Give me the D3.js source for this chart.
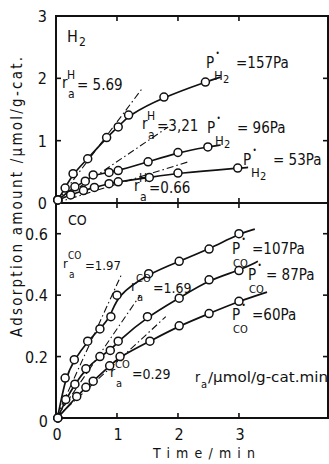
<!DOCTYPE html>
<html><head><meta charset="utf-8">
<script src="https://cdn.jsdelivr.net/npm/d3@7"></script>
<style>
body{margin:0;background:#fff}
svg{display:block}
text{font-family:"DejaVu Sans Condensed","DejaVu Sans",sans-serif;fill:#111}
</style></head><body>
<svg id="chart" width="329" height="464"></svg>
<script>
// ---- data: time in min, adsorbed amount in umol/g-cat ----
const timeTicks = [0, 1, 2, 3];
const h2Ticks = [0, 1, 2, 3];
const coTicks = [0, 0.2, 0.4, 0.6];

// H2 uptake at three partial pressures
const h2_157 = [[0.03,0.05],[0.15,0.24],[0.28,0.47],[0.52,0.71],[0.83,1.05],[1.02,1.22],[1.19,1.41],[1.77,1.70],[2.45,1.94]];
const h2_96  = [[0.03,0.05],[0.31,0.26],[0.48,0.35],[0.61,0.45],[0.87,0.49],[1.02,0.52],[1.51,0.66],[2.00,0.81],[2.49,0.90]];
const h2_53  = [[0.03,0.05],[0.24,0.13],[0.45,0.20],[0.63,0.25],[0.87,0.31],[1.02,0.34],[1.53,0.41],[2.00,0.48],[2.98,0.56]];
const h2_curveEnds = [[2.70,2.02],[2.70,0.93],[3.15,0.57]];
// initial-rate tangents: end point of each line drawn from the origin
const h2_tangentEnds = [[1.40,1.82],[1.84,1.22],[2.20,0.67]];
const h2_rates = ["5.69", "3,21", "0.66"];
const h2_pressures = ["=157Pa", "= 96Pa", "= 53Pa"];

// CO uptake at three partial pressures
const co_107 = [[0.03,0.00],[0.15,0.13],[0.30,0.19],[0.52,0.25],[0.72,0.29],[0.90,0.33],[1.00,0.40],[1.52,0.47],[2.02,0.51],[2.51,0.55],[3.00,0.60]];
const co_87  = [[0.03,0.00],[0.16,0.06],[0.31,0.11],[0.49,0.16],[0.72,0.20],[0.89,0.22],[1.02,0.25],[1.50,0.33],[2.02,0.39],[2.51,0.45],[3.00,0.48]];
const co_60  = [[0.03,0.00],[0.34,0.07],[0.49,0.10],[0.61,0.12],[0.88,0.17],[1.05,0.20],[1.54,0.25],[2.02,0.30],[2.51,0.34],[3.00,0.38]];
const co_curveEnds = [[3.26,0.615],[3.31,0.51],[3.46,0.41]];
const co_tangentEnds = [[1.08,0.47],[1.38,0.40],[1.80,0.33]];
const co_rates = ["=1.97", "=1.69", "=0.29"];
const co_pressures = ["=107Pa", "= 87Pa", "=60Pa"];

// ---- layout ----
const svg = d3.select("#chart");
const L = 56, R = 328, T = 16, MID = 203, B = 418;
const x = d3.scaleLinear().domain([0, 4.46]).range([L, R]);
const yH = d3.scaleLinear().domain([0, 3]).range([MID, T]);
const yC = d3.scaleLinear().domain([0, 0.7]).range([B, MID]);
const ink = "#111";

// ---- ticks (all pointing into the frame) ----
const tk = 5;
const tickG = svg.append("g").attr("stroke", ink).attr("stroke-width", 1.6);
timeTicks.filter(d => d > 0).forEach(t => {
  tickG.append("line").attr("x1", x(t)).attr("x2", x(t)).attr("y1", T).attr("y2", T + tk);
  tickG.append("line").attr("x1", x(t)).attr("x2", x(t)).attr("y1", MID - tk).attr("y2", MID + tk);
  tickG.append("line").attr("x1", x(t)).attr("x2", x(t)).attr("y1", B).attr("y2", B - tk);
});
h2Ticks.filter(d => d > 0 && d < 3).forEach(v => {
  tickG.append("line").attr("x1", L).attr("x2", L + tk).attr("y1", yH(v)).attr("y2", yH(v));
  tickG.append("line").attr("x1", R).attr("x2", R - tk).attr("y1", yH(v)).attr("y2", yH(v));
});
coTicks.filter(d => d > 0).forEach(v => {
  tickG.append("line").attr("x1", L).attr("x2", L + tk).attr("y1", yC(v)).attr("y2", yC(v));
  tickG.append("line").attr("x1", R).attr("x2", R - tk).attr("y1", yC(v)).attr("y2", yC(v));
});

// ---- tick labels ----
const tl = svg.append("g").attr("font-size", 16).attr("text-anchor", "end");
h2Ticks.forEach(v => tl.append("text").attr("x", 47).attr("y", yH(v) + 6).text(v));
coTicks.forEach(v => tl.append("text").attr("x", 48).attr("y", yC(v) + (v === 0 ? 9 : 6))
  .text(v === 0 ? "0" : d3.format(".1f")(v)));
svg.append("g").attr("font-size", 16).attr("text-anchor", "middle")
  .selectAll("text").data(timeTicks).join("text")
  .attr("x", d => x(d) + 1).attr("y", 440).text(d => d);

// axis titles
svg.append("text").attr("x", 153).attr("y", 458).attr("font-size", 14)
  .attr("textLength", 102).attr("lengthAdjust", "spacing").text("Time/min");
svg.append("text").attr("transform", "translate(22,337) rotate(-90)")
  .attr("font-size", 15).attr("textLength", 280).attr("lengthAdjust", "spacing")
  .text("Adsorption amount /μmol/g-cat.");

// ---- frame ----
svg.append("rect").attr("x", L).attr("y", T).attr("width", R - L).attr("height", B - T)
  .attr("fill", "none").attr("stroke", ink).attr("stroke-width", 2);
svg.append("line").attr("x1", L).attr("x2", R).attr("y1", MID).attr("y2", MID)
  .attr("stroke", ink).attr("stroke-width", 2);

// ---- tangents, curves, markers ----
function panel(series, ends, tangents, y) {
  const g = svg.append("g");
  tangents.forEach(e => {
    g.append("line").attr("x1", x(0)).attr("y1", y(0)).attr("x2", x(e[0])).attr("y2", y(e[1]))
      .attr("stroke", ink).attr("stroke-width", 1.1).attr("stroke-dasharray", "7,3,1.5,3");
  });
  const line = d3.line().x(d => x(d[0])).y(d => y(d[1])).curve(d3.curveBasis);
  series.forEach((s, i) => {
    const nodes = [[0, 0]].concat(s, [ends[i]]);
    g.append("path").attr("d", line(nodes)).attr("fill", "none")
      .attr("stroke", ink).attr("stroke-width", 1.7);
  });
  series.forEach(s => {
    g.selectAll(null).data(s).join("circle")
      .attr("cx", d => x(d[0])).attr("cy", d => y(d[1])).attr("r", 4)
      .attr("fill", "#fff").attr("stroke", ink).attr("stroke-width", 1.5);
  });
}
panel([h2_157, h2_96, h2_53], h2_curveEnds, h2_tangentEnds, yH);
panel([co_107, co_87, co_60], co_curveEnds, co_tangentEnds, yC);

// ---- annotations ----
function txt(xp, yp, s, fs) {
  return svg.append("text").attr("x", xp).attr("y", yp).attr("font-size", fs).text(s);
}
// gas names
txt(67, 42, "H", 16); txt(79, 46, "2", 12);
txt(68, 225, "CO", 14);

// P* labels: P, a dot above, the gas as subscript, then the pressure
function pLabel(xp, yp, gas, rest, restDx) {
  txt(xp, yp, "P", 15);
  txt(xp + 9.5, yp - 12, "•", 8);
  if (gas === "H2") {
    txt(xp + 8, yp + 12, "H", 13);
    txt(xp + 17, yp + 15, "2", 11);
  } else {
    txt(xp + 1, yp + 13, "CO", 11);
  }
  txt(xp + restDx, yp, rest, 15);
}
pLabel(206, 68, "H2", h2_pressures[0], 30);
pLabel(207, 133, "H2", h2_pressures[1], 30);
pLabel(243, 165, "H2", h2_pressures[2], 30);
pLabel(232, 254, "CO", co_pressures[0], 20);
pLabel(248, 280, "CO", co_pressures[1], 18);
pLabel(232, 320, "CO", co_pressures[2], 20);

// rate labels (r_a with gas superscript)
function rLabel(xp, yp, sup, val, fs) {
  txt(xp, yp, "r", fs);
  txt(xp + 5, yp - 9, sup, fs - 3);
  txt(xp + 6, yp + 10, "a", fs - 3);
  txt(xp + (sup === "H" ? 15 : 22), yp + 2, val, fs);
}
rLabel(62, 88, "H", "= " + h2_rates[0], 15);
rLabel(142, 129, "H", "=" + h2_rates[1], 15);
rLabel(134, 191, "H", "=" + h2_rates[2], 15);

rLabel(63, 268, "CO", co_rates[0], 13);
rLabel(131, 291, "CO", co_rates[1], 14);
rLabel(110, 377, "CO", co_rates[2], 14);

// unit note
txt(195, 382, "r", 14); txt(201, 388, "a", 11);
txt(208, 382, "/μmol/g-cat.min", 14).attr("textLength", 120).attr("lengthAdjust", "spacingAndGlyphs");
</script>
</body></html>
